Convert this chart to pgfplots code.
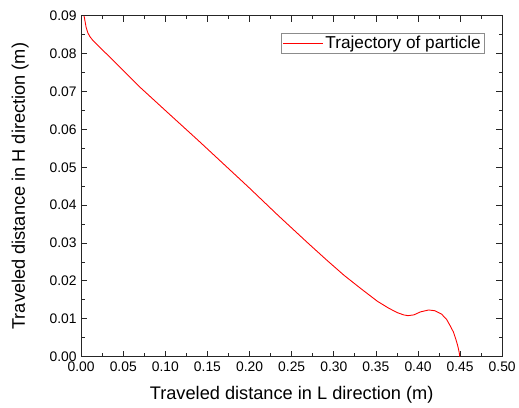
\documentclass[border=0pt]{standalone}
\usepackage{pgfplots}
\pgfplotsset{compat=1.18}
\usepackage{fontspec}
\setmainfont{Liberation Sans}
\begin{document}
\begin{tikzpicture}
\begin{axis}[
 scale only axis,
 width=424bp, height=343bp,
 xmin=0, xmax=0.5,
 ymin=0, ymax=0.09,
 xtick={0,0.05,...,0.501},
 ytick={0,0.01,...,0.0901},
 scaled ticks=false,
 minor tick num=1,
 tick align=inside,
 major tick length=6bp,
 minor tick length=3.5bp,
 axis line style={line width=0.9pt, color=black!85},
 every tick/.style={line width=0.8pt, color=black!85},
 /pgf/number format/assume math mode=true,
 /pgf/number format/fixed,
 /pgf/number format/fixed zerofill,
 /pgf/number format/precision=2,
 tick label style={font=\fontsize{14}{16}\selectfont},
 xticklabel style={yshift=-2bp},
 yticklabel style={xshift=-1bp},
 xlabel={Traveled distance in L direction (m)},
 ylabel={Traveled distance in H direction (m)},
 every axis x label/.style={at={([yshift=-39bp]rel axis cs:0.5,0)}, anchor=center,
   font=\fontsize{18.4}{21}\selectfont},
 every axis y label/.style={at={([xshift=-61.5bp]rel axis cs:0,0.5)}, anchor=center, rotate=90,
   font=\fontsize{18.4}{21}\selectfont},
 legend style={at={(rel axis cs:0.959,0.9496)}, anchor=north east,
   draw=black!45, line width=0.5pt, font=\fontsize{17.4}{20}\selectfont,
   inner xsep=2bp, inner ysep=1bp},
 legend cell align=left,
 legend image code/.code={\draw[draw=red, line width=1pt] (0bp,0bp) -- (40bp,0bp);},
]
\addplot[line width=0.9pt, color=red] coordinates {
 (0.0035, 0.0900)
 (0.0043, 0.0890)
 (0.0059, 0.0870)
 (0.0080, 0.0855)
 (0.0105, 0.0845)
 (0.0133, 0.0837)
 (0.0180, 0.0826)
 (0.0231, 0.0815)
 (0.0350, 0.0789)
 (0.0500, 0.0756)
 (0.0687, 0.0714)
 (0.1040, 0.0642)
 (0.1395, 0.0570)
 (0.1985, 0.0448)
 (0.2338, 0.0373)
 (0.2692, 0.0300)
 (0.2920, 0.0254)
 (0.3125, 0.0214)
 (0.3330, 0.0178)
 (0.3518, 0.0146)
 (0.3650, 0.0128)
 (0.3754, 0.0116)
 (0.3830, 0.0110)
 (0.3880, 0.0108)
 (0.3950, 0.0110)
 (0.4030, 0.0118)
 (0.4127, 0.0123)
 (0.4200, 0.0121)
 (0.4280, 0.0112)
 (0.4340, 0.0098)
 (0.4380, 0.0082)
 (0.4420, 0.0065)
 (0.4450, 0.0045)
 (0.4470, 0.0030)
 (0.4490, 0.0010)
 (0.4495, 0.0000)
};
\addlegendentry{Trajectory of particle}
\end{axis}
\path ([xshift=-81.7bp,yshift=-49bp]current axis.south west)
  rectangle ([xshift=13.3bp,yshift=16bp]current axis.north east);
\end{tikzpicture}
\end{document}
